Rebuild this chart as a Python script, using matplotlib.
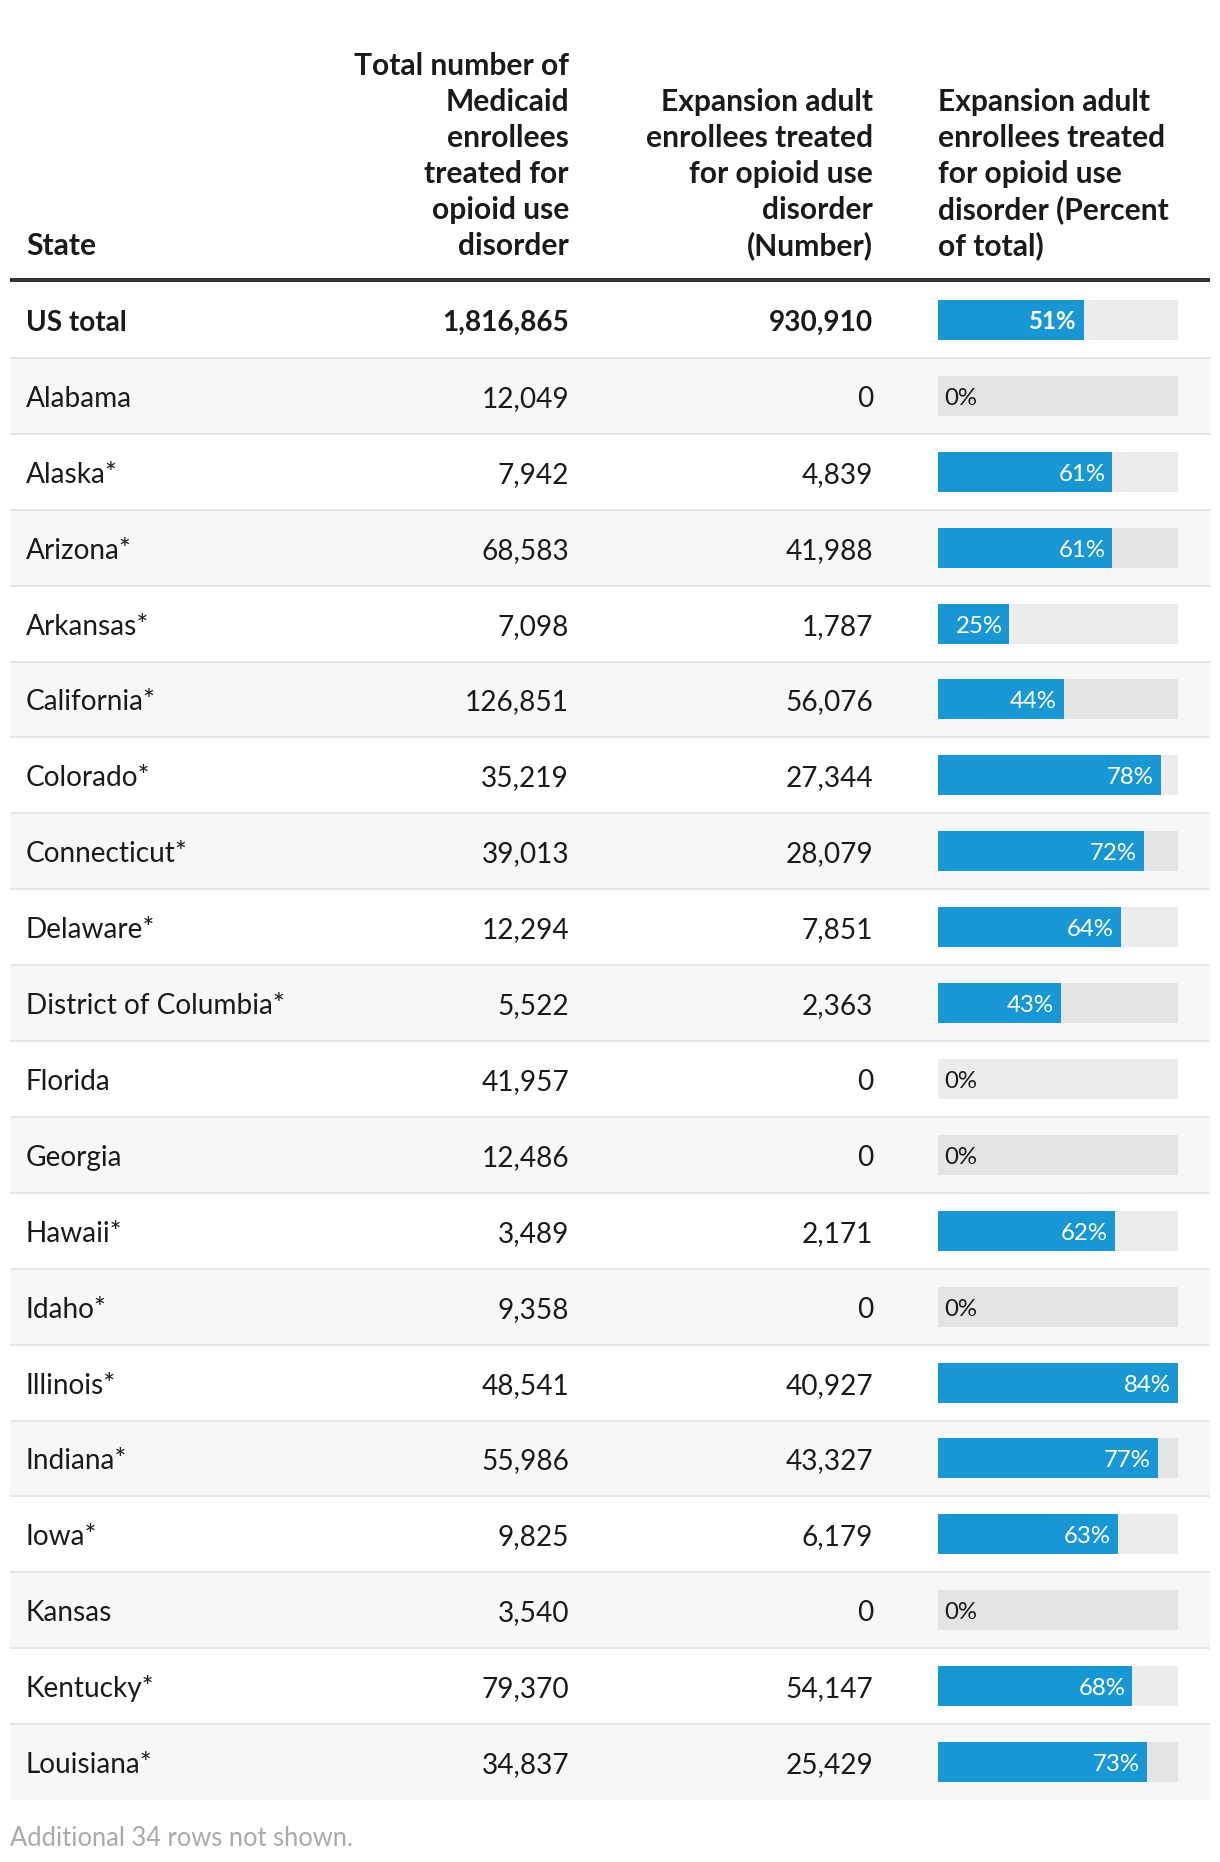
import matplotlib
matplotlib.use("Agg")
import matplotlib.pyplot as plt
from matplotlib.patches import Rectangle

plt.rcParams['font.family'] = ['Lato', 'DejaVu Sans']

# ---------------- data ----------------
states = ["US total", "Alabama", "Alaska*", "Arizona*", "Arkansas*", "California*",
          "Colorado*", "Connecticut*", "Delaware*", "District of Columbia*", "Florida",
          "Georgia", "Hawaii*", "Idaho*", "Illinois*", "Indiana*", "Iowa*", "Kansas",
          "Kentucky*", "Louisiana*"]
total_treated = [1816865, 12049, 7942, 68583, 7098, 126851, 35219, 39013, 12294, 5522,
                 41957, 12486, 3489, 9358, 48541, 55986, 9825, 3540, 79370, 34837]
expansion_treated = [930910, 0, 4839, 41988, 1787, 56076, 27344, 28079, 7851, 2363,
                     0, 0, 2171, 0, 40927, 43327, 6179, 0, 54147, 25429]
expansion_pct = [51, 0, 61, 61, 25, 44, 78, 72, 64, 43, 0, 0, 62, 0, 84, 77, 63, 0, 68, 73]
headers = [
    ["State"],
    ["Total number of", "Medicaid", "enrollees", "treated for", "opioid use", "disorder"],
    ["Expansion adult", "enrollees treated", "for opioid use", "disorder", "(Number)"],
    ["Expansion adult", "enrollees treated", "for opioid use", "disorder (Percent", "of total)"],
]
footer = "Additional 34 rows not shown."

# ---------------- layout (pixels) ----------------
W, H = 1220, 1862
DPI = 100
PT = 72 / DPI
LEFT, RIGHT = 10, 1210
HEAD_LINE_Y = 280
BODY_TOP, BODY_BOT = 282, 1800
n = len(states)
ROW_H = (BODY_BOT - BODY_TOP) / n
X_STATE = 26
X_COL1 = 569
X_COL2 = 873
BAR_X0, BAR_X1 = 938, 1178
BAR_H = 40
FS_HEAD = 30 * PT
FS_BODY = 28 * PT
FS_PCT = 24 * PT
FS_FOOT = 25.5 * PT
TXT = "#1a1a1a"
BLUE = "#1897d4"

fig = plt.figure(figsize=(W / DPI, H / DPI), dpi=DPI)
fig.patch.set_facecolor("white")
ax = fig.add_axes([0, 0, 1, 1])
ax.set_xlim(0, W)
ax.set_ylim(H, 0)
ax.axis("off")

# headers
hdr_x = [X_STATE, X_COL1, X_COL2, BAR_X0]
hdr_ha = ["left", "right", "right", "left"]
HDR_BASE = 255
HDR_LH = 36
for lines, x, ha in zip(headers, hdr_x, hdr_ha):
    m = len(lines)
    for k, line in enumerate(lines):
        ax.text(x, HDR_BASE - HDR_LH * (m - 1 - k), line, ha=ha, va="baseline",
                fontsize=FS_HEAD, fontweight="bold", color=TXT)

# row backgrounds and separators
for i in range(n):
    top = BODY_TOP + ROW_H * i
    if i % 2 == 1:
        ax.add_patch(Rectangle((LEFT, top), RIGHT - LEFT, ROW_H, facecolor="#f7f7f7",
                               edgecolor="none", zorder=0))
    if i < n - 1:
        ax.plot([LEFT, RIGHT], [top + ROW_H, top + ROW_H], color="#e6e6e6",
                lw=2 * PT, zorder=1, solid_capstyle="butt")
ax.plot([LEFT, RIGHT], [HEAD_LINE_Y, HEAD_LINE_Y], color="#333333", lw=4 * PT,
        zorder=2, solid_capstyle="butt")

# body text
for i in range(n):
    cy = BODY_TOP + ROW_H * (i + 0.5)
    base = cy + 11
    w = "bold" if i == 0 else "normal"
    ax.text(X_STATE, base, states[i], ha="left", va="baseline", fontsize=FS_BODY,
            fontweight=w, color=TXT)
    ax.text(X_COL1, base, f"{total_treated[i]:,}", ha="right", va="baseline",
            fontsize=FS_BODY, fontweight=w, color=TXT)
    ax.text(X_COL2, base, f"{expansion_treated[i]:,}", ha="right", va="baseline",
            fontsize=FS_BODY, fontweight=w, color=TXT)

# footer
ax.text(LEFT, 1846, footer, ha="left", va="baseline", fontsize=FS_FOOT, color="#aaaaaa")

# bar column
bax = fig.add_axes([BAR_X0 / W, 1 - BODY_BOT / H, (BAR_X1 - BAR_X0) / W,
                    (BODY_BOT - BODY_TOP) / H])
bax.patch.set_alpha(0)
vmax = max(expansion_pct)
bax.set_xlim(0, vmax)
bax.set_ylim(n - 0.5, -0.5)
bax.axis("off")
rows = list(range(n))
bh = BAR_H / ROW_H
bax.barh(rows, [vmax] * n, height=bh, color=(0, 0, 0, 0.075), linewidth=0)
bax.barh(rows, expansion_pct, height=bh, color=BLUE, linewidth=0)
for i, p in enumerate(expansion_pct):
    w = "bold" if i == 0 else "normal"
    if p > 0:
        bax.annotate(f"{p}%", (p, i), xytext=(-7 * PT, -9 * PT), textcoords="offset points",
                     ha="right", va="baseline", fontsize=FS_PCT, fontweight=w, color="white")
    else:
        bax.annotate(f"{p}%", (0, i), xytext=(6 * PT, -9 * PT), textcoords="offset points",
                     ha="left", va="baseline", fontsize=FS_PCT, fontweight=w, color=TXT)

fig.savefig("out.png", dpi=DPI, facecolor="white")
